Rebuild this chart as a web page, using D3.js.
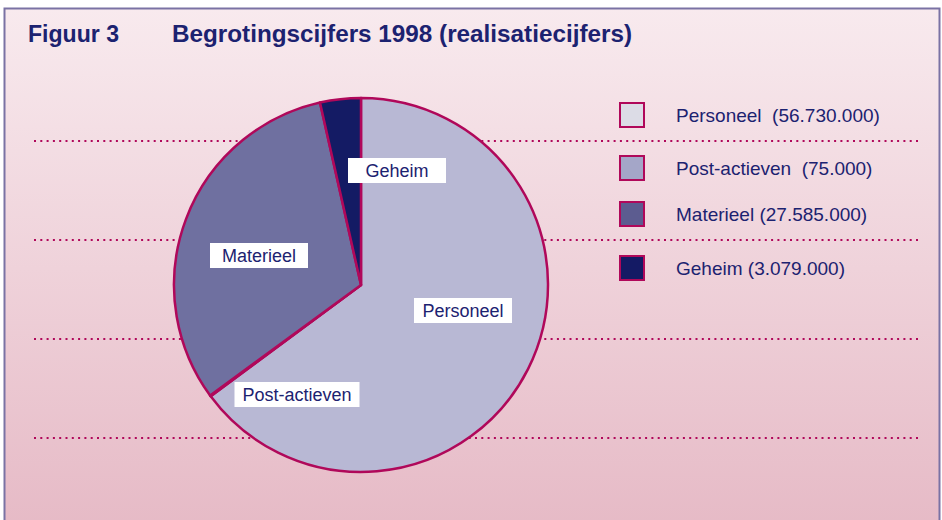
<!DOCTYPE html>
<html>
<head>
<meta charset="utf-8">
<script src="https://cdn.jsdelivr.net/npm/d3@7"></script>
<style>
  body { margin: 0; background: #fff; }
  text { font-family: "Liberation Sans", sans-serif; }
</style>
</head>
<body>
<script>
const w = 942;
const h = 520;

// data
const categories = ["Personeel", "Post-actieven", "Materieel", "Geheim"];
const values = [56730000, 75000, 27585000, 3079000];
const legendLabels = ["Personeel  (56.730.000)", "Post-actieven  (75.000)", "Materieel (27.585.000)", "Geheim (3.079.000)"];
const sliceColors = ["#b8b8d4", "#dcdce8", "#6f70a0", "#141b64"];
const swatchColors = ["#dcdce6", "#a4a6c8", "#5c5c90", "#141a64"];

const navy = "#1c2270";
const crimson = "#b0085a";

const svg = d3.select("body")
    .append("svg")
    .attr("width", w)
    .attr("height", h);

const defs = svg.append("defs");
const grad = defs.append("linearGradient")
    .attr("id", "bg")
    .attr("x1", 0).attr("y1", 0).attr("x2", 0).attr("y2", 1);
grad.append("stop").attr("offset", "0%").attr("stop-color", "#f8eaee");
grad.append("stop").attr("offset", "100%").attr("stop-color", "#e6bac6");

// panel
svg.append("rect")
    .attr("x", 4.5).attr("y", 8.5)
    .attr("width", 935).attr("height", 520)
    .attr("fill", "url(#bg)")
    .attr("stroke", "#7a72a4")
    .attr("stroke-width", 2);

// title (condensed look via textLength)
svg.append("text")
    .attr("x", 28).attr("y", 42)
    .attr("fill", navy)
    .attr("font-size", 24).attr("font-weight", "bold")
    .attr("textLength", 91).attr("lengthAdjust", "spacingAndGlyphs")
    .text("Figuur 3");
svg.append("text")
    .attr("x", 172).attr("y", 42)
    .attr("fill", navy)
    .attr("font-size", 24).attr("font-weight", "bold")
    .attr("textLength", 460).attr("lengthAdjust", "spacingAndGlyphs")
    .text("Begrotingscijfers 1998 (realisatiecijfers)");

// dotted lines
const gridY = d3.scaleLinear().domain([0, 3]).range([141, 438]);
svg.selectAll("line.dots")
    .data(d3.range(4))
    .enter()
    .append("line")
    .attr("class", "dots")
    .attr("x1", 34).attr("x2", 920)
    .attr("y1", d => gridY(d)).attr("y2", d => gridY(d))
    .attr("stroke", crimson)
    .attr("stroke-width", 2)
    .attr("stroke-dasharray", "2 4.3");

// pie
const cx = 361, cy = 285, r = 187;
const pie = d3.pie().sort(null).value(d => d);
const arcs = pie(values);
const arc = d3.arc().innerRadius(0).outerRadius(r);

const g = svg.append("g").attr("transform", `translate(${cx}, ${cy})`);
g.selectAll("path")
    .data(arcs)
    .enter()
    .append("path")
    .attr("d", arc)
    .attr("fill", (d, i) => sliceColors[i])
    .attr("stroke", crimson)
    .attr("stroke-width", 2.5)
    .attr("stroke-linejoin", "round");

// slice labels in white boxes (offsets relative to pie centre)
const labelPos = [[102, 26], [-64, 110], [-102, -29], [36, -114]];
const labelBoxW = [98, 125, 98, 98];
categories.forEach((c, i) => {
    const lg = g.append("g").attr("transform", `translate(${labelPos[i][0]}, ${labelPos[i][1]})`);
    lg.append("rect")
        .attr("x", -labelBoxW[i] / 2).attr("y", -13)
        .attr("width", labelBoxW[i]).attr("height", 25)
        .attr("fill", "#fff");
    lg.append("text")
        .attr("text-anchor", "middle")
        .attr("y", 6)
        .attr("fill", navy)
        .attr("font-size", 18)
        .text(c);
});

// legend
const legY = d3.scaleOrdinal().domain(categories).range([115, 168, 214, 268]);
const leg = svg.selectAll("g.leg")
    .data(categories)
    .enter()
    .append("g")
    .attr("class", "leg")
    .attr("transform", d => `translate(620, ${legY(d)})`);
leg.append("rect")
    .attr("x", 0).attr("y", -12)
    .attr("width", 24).attr("height", 24)
    .attr("fill", (d, i) => swatchColors[i])
    .attr("stroke", crimson)
    .attr("stroke-width", 2);
leg.append("text")
    .attr("x", 56).attr("y", 7)
    .attr("fill", navy)
    .attr("font-size", 19)
    .style("white-space", "pre")
    .text((d, i) => legendLabels[i]);
</script>
</body>
</html>
